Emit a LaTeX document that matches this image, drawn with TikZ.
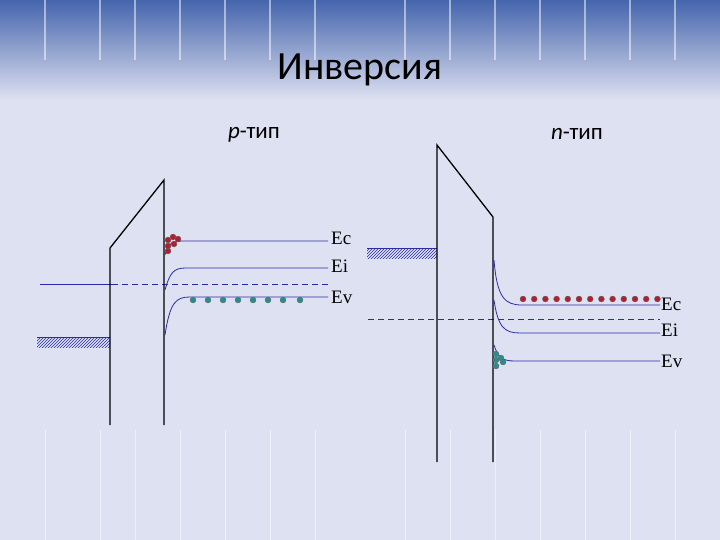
\documentclass[tikz,border=0pt]{standalone}
\usepackage{fontspec}
\setmainfont{Carlito}
\newfontfamily\serifE{Liberation Serif}
\usetikzlibrary{patterns}
\definecolor{bg}{HTML}{DEE1F1}
\definecolor{topb}{HTML}{4565AC}
\definecolor{band}{HTML}{2B2BA8}
\definecolor{ered}{HTML}{B02030}
\definecolor{hteal}{HTML}{2A8C8C}
\tikzset{
 wall/.style={line width=1.3pt,black},
 lvl/.style={band,line width=0.8pt},
 lbl/.style={font=\serifE\fontsize{19}{19}\selectfont,anchor=west,inner sep=1pt},
 el/.style={circle,fill=ered,draw=black!60,inner sep=0pt,minimum size=6pt,line width=0.3pt},
 ho/.style={circle,fill=hteal,draw=black!60,inner sep=0pt,minimum size=6pt,line width=0.3pt},
 hatch/.style={pattern=north east lines,pattern color=band}
}
\begin{document}
\begin{tikzpicture}[x=1pt,y=-1pt]
\useasboundingbox (0,0) rectangle (720,540);
\fill[bg] (0,0) rectangle (720,540);
\shade[top color=topb,bottom color=bg] (0,0) rectangle (720,100);
\foreach \x in {45,100,135,180,225,270,315,405,450,495,540,585,630,675}
 {\draw[white,opacity=0.5,line width=1.5pt] (\x,0)--(\x,60);
  \draw[white,opacity=0.5,line width=1pt] (\x,430)--(\x,540);}
\node[font=\fontsize{40}{40}\selectfont] (t) at (360,70) {Инверсия};
\node[font=\fontsize{23}{23}\selectfont] (pt) at (254,135) {\textit{p}-тип};
\node[font=\fontsize{23}{23}\selectfont] (nt) at (577,134) {\textit{n}-тип};
% left
\fill[hatch] (37,337) rectangle (110,347);
\draw[band,line width=0.8pt] (37,337)--(110,337);
\draw[band,line width=0.9pt] (40,284)--(112,284);
\draw[band,line width=0.9pt,dash pattern=on 6pt off 4pt] (112,284)--(330,284);
\draw[wall] (110,425)--(110,248)--(164,180)--(164,425);
\draw[lvl] (165,255) .. controls (168,243) and (172,241) .. (185,241) -- (328,241);
\draw[lvl] (165,290) .. controls (170,272) and (174,268) .. (186,268) -- (328,268);
\draw[lvl] (165,335) .. controls (170,302) and (176,297) .. (190,297) -- (328,297);
\node[lbl] (ec1) at (330,238) {Ec};
\node[lbl] (ei1) at (330,266) {Ei};
\node[lbl] (ev1) at (330,297) {Ev};
\foreach \x in {193,208,223,238,253,268,283,300} \node[ho] at (\x,300) {};
\foreach \p in {(168,240),(173,237),(178,239),(168,246),(174,244),(168,251)} \node[el] at \p {};
% right
\fill[hatch] (367,248) rectangle (437,258);
\draw[band,line width=0.8pt] (367,248)--(437,248);
\draw[band,line width=0.6pt,dash pattern=on 6pt off 4pt] (368,319)--(660,319);
\draw[wall] (437,462)--(437,145)--(493,217)--(493,462);
\draw[lvl] (494,260) .. controls (497,298) and (505,305) .. (522,305) -- (660,305);
\draw[lvl] (494,300) .. controls (498,328) and (505,333) .. (520,333) -- (660,333);
\draw[lvl] (494,345) .. controls (498,358) and (503,361) .. (515,361) -- (660,361);
\node[lbl] (ec2) at (660,304) {Ec};
\node[lbl] (ei2) at (660,330) {Ei};
\node[lbl] (ev2) at (660,361) {Ev};
\foreach \i in {0,...,12} \node[el] at (523+\i*11.2,299) {};
\foreach \p in {(496,354),(496,360),(496,366),(501,358),(503,362)} \node[ho] at \p {};
\end{tikzpicture}
\end{document}
